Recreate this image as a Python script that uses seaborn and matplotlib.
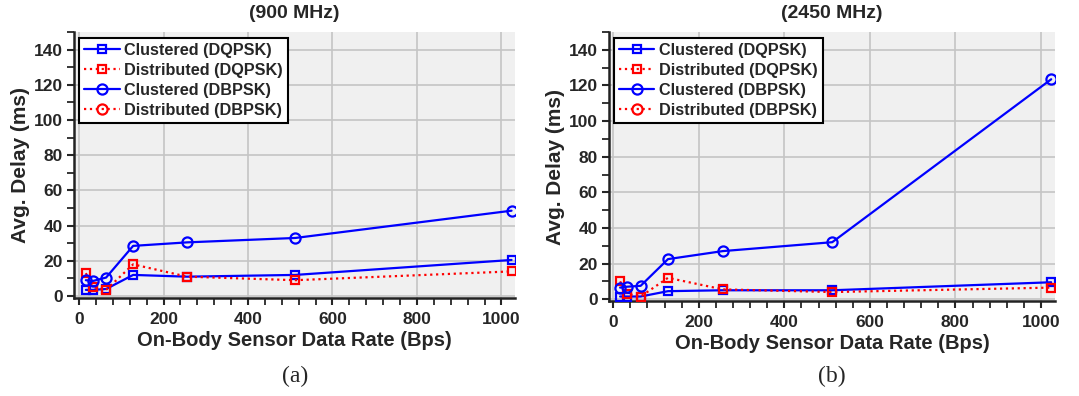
import numpy as np
import pandas as pd
import matplotlib
matplotlib.use("Agg")
import matplotlib.pyplot as plt
from matplotlib.lines import Line2D
from matplotlib.ticker import MultipleLocator
import seaborn as sns

sns.set_theme(style="ticks")
plt.rcParams['font.family'] = ['Liberation Sans', 'DejaVu Sans']
plt.rcParams['font.weight'] = 'bold'

rates = [16, 32, 64, 128, 256, 512, 1024]

# 900 MHz
clu_dqpsk_900 = [3.5, 3.5, 4.0, 12.0, 11.0, 12.0, 20.5]
dis_dqpsk_900 = [13.0, 5.0, 3.5, 18.0, 11.0, 9.0, 14.0]
clu_dbpsk_900 = [9.0, 8.5, 10.5, 28.5, 30.5, 33.0, 48.5]

# 2450 MHz
clu_dqpsk_2450 = [1.5, 1.5, 1.5, 4.5, 5.0, 5.0, 9.5]
dis_dqpsk_2450 = [10.0, 3.0, 1.5, 12.0, 5.5, 4.0, 6.5]
clu_dbpsk_2450 = [6.5, 7.0, 7.5, 22.5, 27.0, 32.0, 123.5]

labels = ["Clustered (DQPSK)", "Distributed (DQPSK)", "Clustered (DBPSK)", "Distributed (DBPSK)"]
titles = ["(900 MHz)", "(2450 MHz)"]
captions = ["(a)", "(b)"]

styles = {
    "Clustered (DQPSK)": dict(color="#0000ff", ls="-", marker="s", ms=5.8),
    "Distributed (DQPSK)": dict(color="#ff0000", ls=":", marker="s", ms=5.8),
    "Clustered (DBPSK)": dict(color="#0000ff", ls="-", marker="o", ms=7.3),
    "Distributed (DBPSK)": dict(color="#ff0000", ls=":", marker="o", ms=7.3),
}

panels = [
    {"Clustered (DQPSK)": clu_dqpsk_900, "Distributed (DQPSK)": dis_dqpsk_900, "Clustered (DBPSK)": clu_dbpsk_900},
    {"Clustered (DQPSK)": clu_dqpsk_2450, "Distributed (DQPSK)": dis_dqpsk_2450, "Clustered (DBPSK)": clu_dbpsk_2450},
]

fig = plt.figure(figsize=(10.79, 3.96), dpi=100)
positions = [[0.0686, 0.248, 0.409, 0.671], [0.5644, 0.240, 0.4134, 0.679]]
xlims = [(-12, 1033), (-10, 1033)]

for i, (pos, data) in enumerate(zip(positions, panels)):
    ax = fig.add_axes(pos)
    ax.set_facecolor("#f0f0f0")
    rows = []
    for lab, vals in data.items():
        for r, v in zip(rates, vals):
            rows.append({"rate": r, "delay": v, "series": lab})
    df = pd.DataFrame(rows)
    order = [l for l in labels if l in data]
    for lab in order:
        st = styles[lab]
        sub = df[df.series == lab]
        sns.lineplot(data=sub, x="rate", y="delay", ax=ax, color=st["color"],
                     linestyle=st["ls"], marker=st["marker"], markersize=st["ms"],
                     markerfacecolor="none", markeredgecolor=st["color"],
                     markeredgewidth=1.6, linewidth=1.6, legend=False, zorder=3)
    ax.set_xlim(*xlims[i])
    ax.set_ylim(-1, 150)
    ax.xaxis.set_major_locator(MultipleLocator(200))
    ax.xaxis.set_minor_locator(MultipleLocator(40))
    ax.yaxis.set_major_locator(MultipleLocator(20))
    ax.yaxis.set_minor_locator(MultipleLocator(10))
    ax.grid(True, which="major", color="#c4c4c4", linewidth=1.2)
    ax.set_axisbelow(True)
    for s in ["top", "right"]:
        ax.spines[s].set_visible(False)
    for s in ["left", "bottom"]:
        ax.spines[s].set_linewidth(1.8)
        ax.spines[s].set_color("#222222")
    ax.tick_params(which="major", direction="out", length=5, width=1.5, labelsize=12.5, pad=3)
    ax.tick_params(axis="x", which="major", pad=5)
    ax.tick_params(which="minor", direction="out", length=5, width=1.3)
    for t in ax.get_xticklabels() + ax.get_yticklabels():
        t.set_fontweight("bold")
    ax.set_xlabel("On-Body Sensor Data Rate (Bps)", fontsize=14.5, fontweight="bold", labelpad=3)
    ax.set_ylabel("Avg. Delay (ms)", fontsize=15, fontweight="bold", labelpad=3)
    ax.set_title(titles[i], fontsize=14, fontweight="bold", pad=10)

    handles = [Line2D([], [], color=styles[l]["color"], linestyle=styles[l]["ls"],
                      marker=styles[l]["marker"], markersize=styles[l]["ms"], markerfacecolor="none",
                      markeredgewidth=1.6, linewidth=1.6) for l in labels]
    leg = ax.legend(handles, labels, loc="upper left", bbox_to_anchor=(0.0, 0.995),
                    frameon=True, fancybox=False, edgecolor="black", framealpha=1,
                    prop={"weight": "bold", "size": 11.7}, handlelength=2.2,
                    labelspacing=0.3, borderpad=0.3, handletextpad=0.3, borderaxespad=0.3)
    leg.get_frame().set_linewidth(1.5)

    fig.text(pos[0] + pos[2] / 2 + 0.0, 0.05, captions[i], ha="center", va="center",
             fontsize=17, family=["Liberation Serif", "DejaVu Serif"], fontweight="normal")

fig.savefig("out.png", dpi=100)
